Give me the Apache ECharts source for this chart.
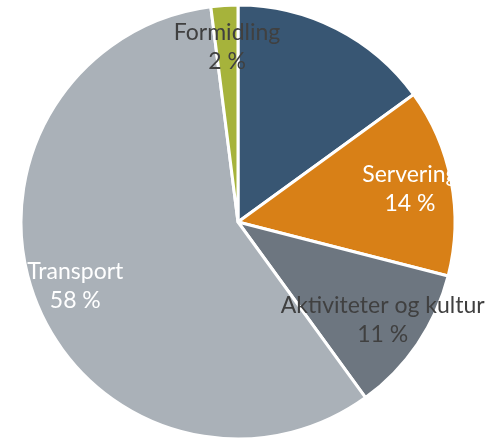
<!DOCTYPE html>
<html>
<head>
<meta charset="utf-8">
<script src="https://cdn.jsdelivr.net/npm/echarts@6/dist/echarts.min.js"></script>
<style>
  html, body { margin: 0; padding: 0; background: #fff; }
  #mainContent { width: 491px; height: 440px; }
</style>
</head>
<body>
<div id="mainContent"></div>
<script>
// data
var categories = ['Overnatting', 'Servering', 'Aktiviteter og kultur', 'Transport', 'Formidling'];
var shares = [15, 14, 11, 58, 2];
var colors = ['#385673', '#D88017', '#6D7680', '#AAB1B8', '#A6B33B'];
var labelColors = [null, '#ffffff', '#404040', '#ffffff', '#404040'];

var myChart = echarts.init(document.getElementById('mainContent'));

var sliceData = [];
var labelData = [];
for (var i = 0; i < categories.length; i++) {
    sliceData.push({
        name: categories[i],
        value: shares[i],
        itemStyle: { color: colors[i] }
    });
    labelData.push({
        name: categories[i],
        value: shares[i],
        label: labelColors[i] ? { show: true, color: labelColors[i] } : { show: false }
    });
}

var option = {
    animation: false,
    series: [{
        name: 'andel',
        type: 'pie',
        center: [238, 222],
        radius: [0, 217],
        startAngle: 90,
        clockwise: true,
        silent: true,
        label: { show: false },
        labelLine: { show: false },
        itemStyle: { borderColor: '#ffffff', borderWidth: 3 },
        data: sliceData
    }, {
        // transparent ring only to place the labels at ~79% of the radius
        name: 'etiketter',
        type: 'pie',
        center: [238, 222],
        radius: [126, 218],
        startAngle: 90,
        clockwise: true,
        silent: true,
        itemStyle: { color: 'rgba(0,0,0,0)', borderWidth: 0 },
        labelLine: { show: false },
        label: {
            position: 'inside',
            fontFamily: 'Lato',
            fontSize: 23,
            lineHeight: 29,
            formatter: function (p) {
                return p.name + '\n' + p.value + ' %';
            }
        },
        data: labelData
    }]
};

myChart.setOption(option);
</script>
</body>
</html>
